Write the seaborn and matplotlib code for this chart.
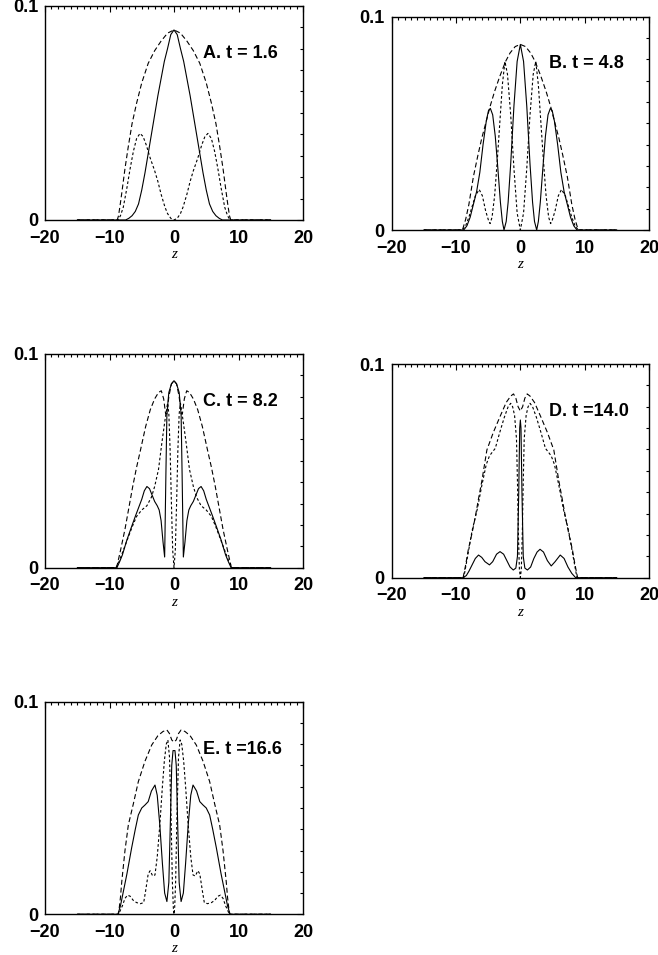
import matplotlib
matplotlib.use("Agg")
import matplotlib.pyplot as plt
import seaborn as sns
from matplotlib.ticker import MultipleLocator

# ---------------- data ----------------
x_ticks = [-20, -10, 0, 10, 20]
y_ticks = [0, 0.1]
y_tick_labels = ["0", "0.1"]
panel_labels = ["A. t = 1.6", "B. t = 4.8", "C. t = 8.2", "D. t =14.0", "E. t =16.6"]

# Panel A
A_env_z = [-15, -8.8, -8.6, -8.35, -8.1, -7.6, -7.1, -6.5, -5.8, -5.0, -4.0, -3.0, -2.0, -1.0, 0.0,
           1.0, 2.0, 3.0, 4.0, 5.0, 5.8, 6.5, 7.1, 7.6, 8.1, 8.35, 8.6, 8.8, 15]
A_env_v = [0, 0, 0.002, 0.007, 0.0125, 0.024, 0.034, 0.045, 0.0545, 0.064, 0.0731, 0.079, 0.0835, 0.0872, 0.0887,
           0.0872, 0.0835, 0.079, 0.0731, 0.064, 0.0545, 0.045, 0.034, 0.024, 0.0125, 0.007, 0.002, 0, 0]
A_sol_z = [-15, -7.5, -7, -6.5, -6, -5.5, -5, -4.5, -4, -3.5, -3, -2.5, -2, -1.5, -1, -0.5, 0,
           0.5, 1, 1.5, 2, 2.5, 3, 3.5, 4, 4.5, 5, 5.5, 6, 6.5, 7, 7.5, 15]
A_sol_v = [0, 0, 0.0008, 0.002, 0.004, 0.0075, 0.014, 0.022, 0.031, 0.040, 0.049, 0.058, 0.066, 0.074, 0.080, 0.0865, 0.0887,
           0.0865, 0.080, 0.074, 0.066, 0.058, 0.049, 0.040, 0.031, 0.022, 0.014, 0.0075, 0.004, 0.002, 0.0008, 0, 0]
A_sd_z = [-15, -8.7, -8.3, -7.86, -7.3, -6.8, -6.3, -5.8, -5.27, -4.8, -4.3, -3.7, -3.0, -2.5, -2.0, -1.4, -1.0, -0.5, 0.0,
          0.5, 1.0, 1.4, 2.0, 2.5, 3.0, 3.7, 4.3, 4.8, 5.27, 5.8, 6.3, 6.8, 7.3, 7.86, 8.3, 8.7, 15]
A_sd_v = [0, 0, 0.002, 0.006, 0.015, 0.024, 0.032, 0.038, 0.0404, 0.039, 0.035, 0.029, 0.023, 0.018, 0.012, 0.006, 0.003, 0.0008, 0,
          0.0008, 0.003, 0.006, 0.012, 0.018, 0.023, 0.029, 0.035, 0.039, 0.0404, 0.038, 0.032, 0.024, 0.015, 0.006, 0.002, 0, 0]

# Panel B
B_env_z = [-15, -9, -8.5, -8, -7.3, -6.6, -6, -5.3, -4.7, -4, -3.2, -2.3, -1.6, -0.8, 0,
           0.8, 1.6, 2.3, 3.2, 4, 4.7, 5.3, 6, 6.6, 7.3, 8, 8.5, 9, 15]
B_env_v = [0, 0, 0.005, 0.012, 0.025, 0.035, 0.043, 0.051, 0.058, 0.065, 0.072, 0.079, 0.083, 0.086, 0.087,
           0.086, 0.083, 0.079, 0.072, 0.065, 0.058, 0.051, 0.043, 0.035, 0.025, 0.012, 0.005, 0, 0]
B_sol_z = [-15, -8.8, -8.3, -7.8, -7.3, -6.8, -6.3, -5.8, -5.3, -4.95, -4.66, -4.3, -3.9, -3.5, -3.1, -2.8, -2.54,
           -2.2, -1.9, -1.5, -1.0, -0.5, 0.0, 0.5, 1.0, 1.5, 1.9, 2.2,
           2.54, 2.8, 3.1, 3.5, 3.9, 4.3, 4.66, 4.95, 5.3, 5.8, 6.3, 6.8, 7.3, 7.8, 8.3, 8.8, 15]
B_sol_v = [0, 0, 0.002, 0.006, 0.012, 0.018, 0.027, 0.040, 0.051, 0.056, 0.057, 0.054, 0.044, 0.029, 0.013, 0.004, 0,
           0.004, 0.013, 0.031, 0.058, 0.079, 0.087, 0.079, 0.058, 0.031, 0.013, 0.004,
           0, 0.004, 0.013, 0.029, 0.044, 0.054, 0.057, 0.056, 0.051, 0.040, 0.027, 0.018, 0.012, 0.006, 0.002, 0, 0]
B_sd_z = [-15, -9, -8.5, -8, -7.5, -7, -6.4, -5.9, -5.4, -4.9, -4.7, -4.4, -4.0, -3.6, -3.2, -2.8, -2.4, -2.0, -1.5, -1.0, -0.5, 0.0,
          0.5, 1.0, 1.5, 2.0, 2.4, 2.8, 3.2, 3.6, 4.0, 4.4, 4.7, 4.9, 5.4, 5.9, 6.4, 7, 7.5, 8, 8.5, 9, 15]
B_sd_v = [0, 0, 0.002, 0.006, 0.011, 0.016, 0.019, 0.016, 0.009, 0.004, 0.003, 0.006, 0.016, 0.032, 0.050, 0.068, 0.079, 0.073, 0.054, 0.029, 0.008, 0,
          0.008, 0.029, 0.054, 0.073, 0.079, 0.068, 0.050, 0.032, 0.016, 0.006, 0.003, 0.004, 0.009, 0.016, 0.019, 0.016, 0.011, 0.006, 0.002, 0, 0]

# Panel C
C_env_z = [-15, -8.9, -8.3, -7.6, -7.0, -6.4, -5.8, -5.2, -4.4, -3.67, -3.0, -2.4, -1.97, -1.6, -1.3, -1.1, -0.8, -0.4, 0.0,
           0.4, 0.8, 1.1, 1.3, 1.6, 1.97, 2.4, 3.0, 3.67, 4.4, 5.2, 5.8, 6.4, 7.0, 7.6, 8.3, 8.9, 15]
C_env_v = [0, 0, 0.008, 0.018, 0.028, 0.038, 0.047, 0.055, 0.066, 0.074, 0.079, 0.082, 0.0828, 0.079, 0.072, 0.072, 0.080, 0.086, 0.0875,
           0.086, 0.080, 0.072, 0.072, 0.079, 0.0828, 0.082, 0.079, 0.074, 0.066, 0.055, 0.047, 0.038, 0.028, 0.018, 0.008, 0, 0]
C_sol_z = [-15, -8.85, -8.4, -8.0, -7.3, -6.6, -6.0, -5.5, -5.0, -4.6, -4.2, -3.8, -3.4, -3.0, -2.6, -2.3, -2.0, -1.7, -1.45, -1.25, -1.1, -0.8, -0.4, 0.0,
           0.4, 0.8, 1.1, 1.25, 1.45, 1.7, 2.0, 2.3, 2.6, 3.0, 3.4, 3.8, 4.2, 4.6, 5.0, 5.5, 6.0, 6.6, 7.3, 8.0, 8.4, 8.85, 15]
C_sol_v = [0, 0, 0.003, 0.006, 0.013, 0.019, 0.024, 0.028, 0.032, 0.036, 0.038, 0.037, 0.034, 0.031, 0.029, 0.027, 0.022, 0.012, 0.005, 0.045, 0.072, 0.082, 0.086, 0.0875,
           0.086, 0.082, 0.072, 0.045, 0.005, 0.012, 0.022, 0.027, 0.029, 0.031, 0.034, 0.037, 0.038, 0.036, 0.032, 0.028, 0.024, 0.019, 0.013, 0.006, 0.003, 0, 0]
C_sd_z = [-15, -9, -8.5, -8, -7.5, -7, -6.5, -5.8, -5, -4.2, -3.5, -3, -2.4, -1.9, -1.4, -1.0, -0.8, -0.6, -0.4, -0.2, 0,
          0.2, 0.4, 0.6, 0.8, 1.0, 1.4, 1.9, 2.4, 3, 3.5, 4.2, 5, 5.8, 6.5, 7, 7.5, 8, 8.5, 9, 15]
C_sd_v = [0, 0, 0.003, 0.007, 0.011, 0.015, 0.019, 0.024, 0.027, 0.029, 0.033, 0.038, 0.046, 0.058, 0.069, 0.077, 0.072, 0.055, 0.030, 0.008, 0,
          0.008, 0.030, 0.055, 0.072, 0.077, 0.069, 0.058, 0.046, 0.038, 0.033, 0.029, 0.027, 0.024, 0.019, 0.015, 0.011, 0.007, 0.003, 0, 0]

# Panel D
D_env_z = [-15, -8.9, -8.5, -8.1, -7.5, -7.0, -6.5, -6.0, -5.2, -4.2, -3.16, -2.2, -1.5, -1.06, -0.7, -0.35, 0,
           0.35, 0.7, 1.06, 1.5, 2.2, 3.16, 4.2, 5.2, 6.0, 6.5, 7.0, 7.5, 8.1, 8.5, 8.9, 15]
D_env_v = [0, 0, 0.006, 0.013, 0.021, 0.0285, 0.037, 0.045, 0.0598, 0.068, 0.0754, 0.082, 0.085, 0.086, 0.084, 0.080, 0.078,
           0.080, 0.084, 0.086, 0.085, 0.082, 0.0754, 0.068, 0.0598, 0.045, 0.037, 0.0285, 0.021, 0.013, 0.006, 0, 0]
D_sd_z = [-15, -8.8, -8.2, -7.5, -6.7, -6.0, -5.3, -4.8, -4.3, -3.9, -3.2, -2.5, -1.9, -1.5, -1.2, -0.9, -0.6, -0.45, -0.3, -0.15, 0,
          0.15, 0.3, 0.45, 0.6, 0.9, 1.2, 1.5, 1.9, 2.5, 3.2, 3.9, 4.3, 4.8, 5.3, 6.0, 6.7, 7.5, 8.2, 8.8, 15]
D_sd_v = [0, 0, 0.010, 0.022, 0.032, 0.043, 0.053, 0.057, 0.059, 0.0605, 0.068, 0.075, 0.080, 0.0816, 0.080, 0.076, 0.065, 0.045, 0.020, 0.004, 0,
          0.004, 0.020, 0.045, 0.065, 0.076, 0.080, 0.0816, 0.080, 0.075, 0.068, 0.0605, 0.059, 0.057, 0.053, 0.043, 0.032, 0.022, 0.010, 0, 0]
D_sol_z = [-15, -8.9, -8.4, -8, -7.5, -7, -6.5, -6, -5.5, -4.8, -4.3, -3.7, -3.16, -2.6, -2.1, -1.6, -1.1, -0.7, -0.45, -0.25, -0.1, 0,
           0.1, 0.25, 0.45, 0.7, 1.1, 1.6, 2.1, 2.6, 3.06, 3.6, 4.2, 4.8, 5.4, 6.2, 6.8, 7.4, 8, 8.6, 15]
D_sol_v = [0, 0, 0.001, 0.003, 0.006, 0.009, 0.0106, 0.0095, 0.0075, 0.006, 0.0075, 0.011, 0.0122, 0.011, 0.008, 0.005, 0.0036, 0.0045, 0.010, 0.040, 0.070, 0.0738,
           0.070, 0.040, 0.010, 0.0045, 0.0036, 0.005, 0.009, 0.012, 0.0133, 0.012, 0.008, 0.0055, 0.0075, 0.0106, 0.009, 0.005, 0.002, 0, 0]

# Panel E
E_env_z = [-15, -8.6, -8.3, -8.1, -7.6, -7.08, -6.3, -5.53, -4.5, -3.46, -2.5, -1.7, -1.1, -0.7, -0.35, 0,
           0.35, 0.7, 1.1, 1.7, 2.5, 3.46, 4.5, 5.53, 6.3, 7.08, 7.6, 8.1, 8.3, 8.6, 15]
E_env_v = [0, 0, 0.008, 0.0153, 0.030, 0.042, 0.052, 0.0624, 0.072, 0.0796, 0.084, 0.086, 0.0867, 0.085, 0.082, 0.081,
           0.082, 0.085, 0.0867, 0.086, 0.084, 0.0796, 0.072, 0.0624, 0.052, 0.042, 0.030, 0.0153, 0.008, 0, 0]
E_sol_z = [-15, -8.7, -8.3, -7.86, -7.3, -6.57, -6.0, -5.53, -5.0, -4.5, -4.0, -3.5, -2.95, -2.6, -2.2, -1.8, -1.45, -1.1, -0.8, -0.55, -0.35, -0.15, 0,
           0.15, 0.35, 0.55, 0.8, 1.1, 1.45, 1.8, 2.2, 2.6, 2.95, 3.5, 4.0, 4.5, 5.0, 5.53, 6.0, 6.57, 7.3, 7.86, 8.3, 8.7, 15]
E_sol_v = [0, 0, 0.004, 0.0106, 0.019, 0.0312, 0.040, 0.0467, 0.050, 0.0514, 0.053, 0.058, 0.0608, 0.056, 0.042, 0.024, 0.010, 0.006, 0.015, 0.045, 0.070, 0.077, 0.077,
           0.077, 0.070, 0.045, 0.015, 0.006, 0.010, 0.024, 0.042, 0.056, 0.0608, 0.058, 0.053, 0.0514, 0.050, 0.0467, 0.040, 0.0312, 0.019, 0.0106, 0.004, 0, 0]
E_sd_z = [-15, -8.6, -8.3, -8.0, -7.6, -7.2, -6.8, -6.3, -5.8, -5.2, -4.7, -4.4, -4.0, -3.7, -3.3, -2.95, -2.6, -2.2, -1.8, -1.5, -1.2, -0.95, -0.7, -0.45, -0.25, -0.1, 0,
          0.1, 0.25, 0.45, 0.7, 0.95, 1.2, 1.5, 1.8, 2.2, 2.6, 2.95, 3.3, 3.7, 4.0, 4.4, 4.7, 5.2, 5.8, 6.3, 6.8, 7.2, 7.6, 8.0, 8.3, 8.6, 15]
E_sd_v = [0, 0, 0.002, 0.004, 0.0075, 0.009, 0.0085, 0.0065, 0.0055, 0.005, 0.0055, 0.011, 0.019, 0.0205, 0.018, 0.0185, 0.027, 0.042, 0.060, 0.072, 0.080, 0.082, 0.074, 0.045, 0.015, 0.003, 0,
          0.003, 0.015, 0.045, 0.074, 0.082, 0.080, 0.072, 0.060, 0.042, 0.027, 0.0185, 0.018, 0.0205, 0.019, 0.011, 0.0055, 0.005, 0.0055, 0.0065, 0.0085, 0.009, 0.0075, 0.004, 0.002, 0, 0]

panels = [
    (A_env_z, A_env_v, A_sol_z, A_sol_v, A_sd_z, A_sd_v),
    (B_env_z, B_env_v, B_sol_z, B_sol_v, B_sd_z, B_sd_v),
    (C_env_z, C_env_v, C_sol_z, C_sol_v, C_sd_z, C_sd_v),
    (D_env_z, D_env_v, D_sol_z, D_sol_v, D_sd_z, D_sd_v),
    (E_env_z, E_env_v, E_sol_z, E_sol_v, E_sd_z, E_sd_v),
]

# ---------------- style ----------------
sns.set_theme(style="white")
plt.rcParams.update({
    "font.family": ["Liberation Sans", "DejaVu Sans"],
    "font.weight": "bold",
    "axes.edgecolor": "black",
    "axes.labelcolor": "black",
    "text.color": "black",
    "xtick.color": "black",
    "ytick.color": "black",
    "axes.unicode_minus": True,
})

W, H = 658, 955
fig = plt.figure(figsize=(W / 100, H / 100), dpi=100)
fig.patch.set_facecolor("white")

# axes boxes in pixels: left, top, right, bottom
boxes = [(45, 5.7, 303, 220), (391.7, 16.7, 649, 230), (45, 354, 303, 567.7),
         (391.7, 364, 649, 577.7), (45, 701.7, 303, 914.3)]
label_y = [0.779, 0.781, 0.777, 0.777, 0.773]

LONG = (0, (4.5, 2.6))
SHORT = (0, (2.4, 2.0))

for i, (box, data) in enumerate(zip(boxes, panels)):
    l, t, r, b = box
    ax = fig.add_axes([l / W, 1 - b / H, (r - l) / W, (b - t) / H])
    ez, ev, sz, sv, dz, dv = data
    sns.lineplot(x=ez, y=ev, ax=ax, color="black", linewidth=0.8, estimator=None)
    ax.lines[-1].set_linestyle(LONG)
    sns.lineplot(x=sz, y=sv, ax=ax, color="black", linewidth=0.8, estimator=None)
    sns.lineplot(x=dz, y=dv, ax=ax, color="black", linewidth=0.8, estimator=None)
    ax.lines[-1].set_linestyle(SHORT)

    ax.set_xlim(-20, 20)
    ax.set_ylim(0, 0.1)
    ax.set_xticks(x_ticks)
    ax.set_yticks(y_ticks)
    ax.set_yticklabels(y_tick_labels)
    ax.xaxis.set_minor_locator(MultipleLocator(1))
    ax.yaxis.set_minor_locator(MultipleLocator(0.01))
    ax.tick_params(which="both", direction="in", top=True, right=True, width=0.8)
    ax.tick_params(which="major", length=4, labelsize=13)
    ax.tick_params(which="minor", length=2)
    ax.tick_params(axis="x", which="major", pad=7)
    ax.tick_params(axis="y", which="major", pad=5)
    for s in ax.spines.values():
        s.set_linewidth(1.0)
        s.set_color("black")
    ax.set_ylabel("")
    ax.set_xlabel("z", family=["Liberation Serif", "DejaVu Serif"], style="italic",
                  weight="normal", fontsize=11, labelpad=1)
    ax.text(0.612, label_y[i], panel_labels[i], transform=ax.transAxes,
            fontsize=13, fontweight="bold", ha="left", va="center")

fig.savefig("out.png", dpi=100, facecolor="white")
